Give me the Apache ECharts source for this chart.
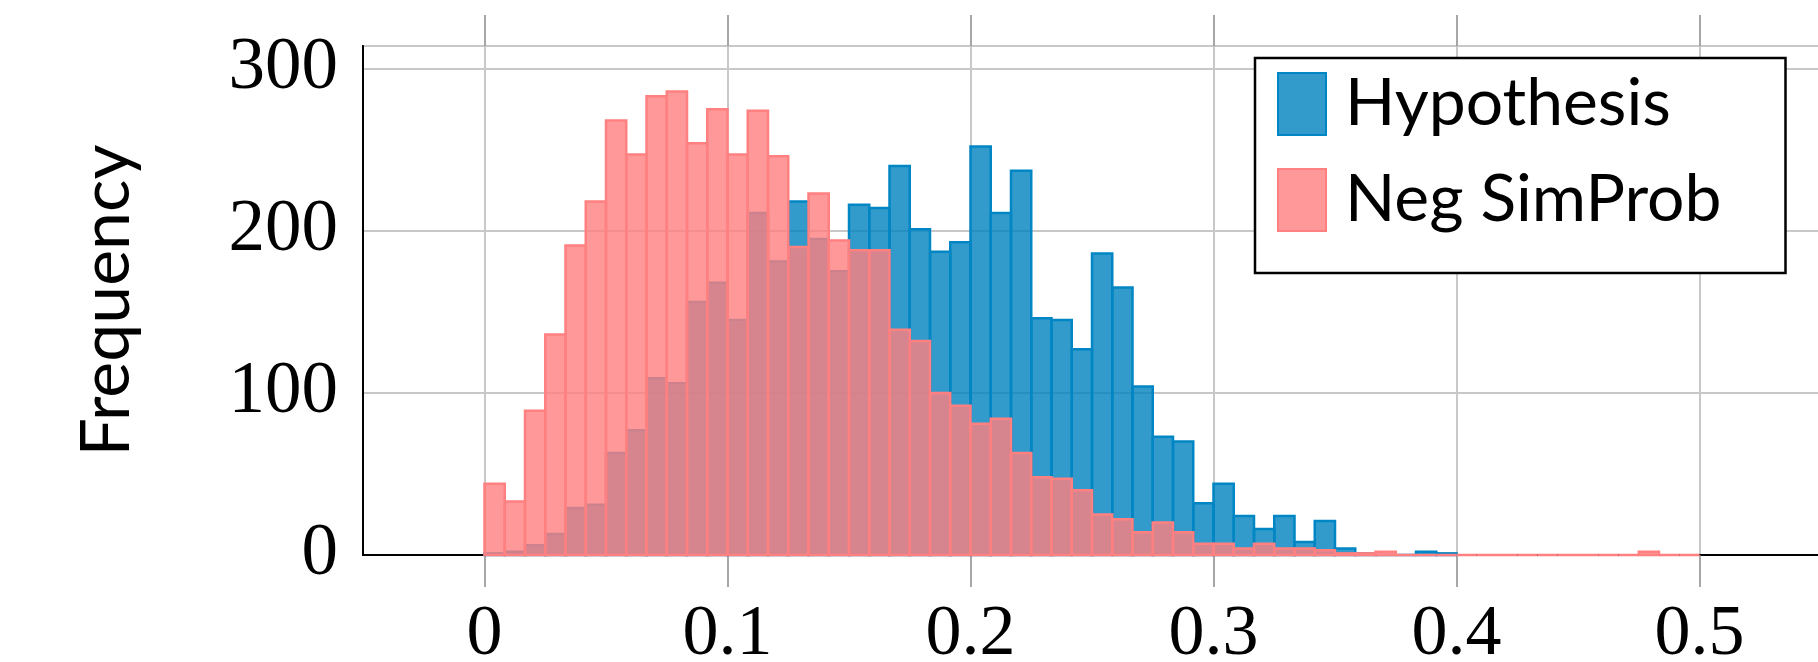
<!DOCTYPE html>
<html>
<head>
<meta charset="utf-8">
<script src="https://cdn.jsdelivr.net/npm/echarts@6/dist/echarts.min.js"></script>
<style>
  html, body { margin: 0; padding: 0; background: #fff; }
  #chart { width: 1818px; height: 662px; }
</style>
</head>
<body>
<div id="chart"></div>
<script>
// Histogram: 60 bins over [0, 0.5]
const BIN_START = 0;
const BIN_WIDTH = 0.5 / 60;

const hypothesis = [1, 2, 6, 13, 29, 31, 63, 77, 109, 106, 156, 168,
  145, 211, 181, 218, 195, 175, 216, 214, 240, 201, 187, 193,
  252, 211, 237, 146, 145, 127, 186, 165, 104, 73, 70, 32,
  44, 24, 16, 24, 8, 21, 4, 1, 0, 0, 2, 1];

const negSimProb = [44, 33, 89, 136, 191, 218, 268, 247, 283, 286, 254, 275,
  247, 274, 246, 190, 223, 194, 188, 188, 139, 132, 100, 92,
  81, 84, 63, 48, 47, 40, 25, 22, 14, 20, 14, 7,
  7, 4, 7, 4, 4, 3, 1, 1, 2, 0, 0, 0,
  0, 0, 0, 0, 0, 0, 0, 0, 0, 2, 0, 0];

const xTicks = [0, 0.1, 0.2, 0.3, 0.4, 0.5];
const xTickLabels = ['0', '0.1', '0.2', '0.3', '0.4', '0.5'];
const yTicks = [0, 100, 200, 300];

const seriesNames = ['Hypothesis', 'Neg SimProb'];

function toBins(values) {
  return values.map((v, i) => [BIN_START + i * BIN_WIDTH, BIN_START + (i + 1) * BIN_WIDTH, v]);
}

const BLUE_FILL = 'rgba(0,130,190,0.8)';
const BLUE_EDGE = 'rgb(0,134,196)';
const RED_FILL = 'rgba(255,128,128,0.8)';
const RED_EDGE = 'rgb(255,128,128)';

function makeRenderer(fill, stroke) {
  return function (params, api) {
    const x0 = api.value(0), x1 = api.value(1), v = api.value(2);
    const p0 = api.coord([x0, v]);
    const p1 = api.coord([x1, 0]);
    return {
      type: 'rect',
      shape: { x: p0[0], y: p0[1], width: p1[0] - p0[0], height: p1[1] - p0[1] },
      style: { fill: fill, stroke: stroke, lineWidth: 2.5 }
    };
  };
}

const chart = echarts.init(document.getElementById('chart'), null, { renderer: 'canvas' });

const serifFont = '"Liberation Serif", "DejaVu Serif", serif';
const sansFont = 'Lato, "Noto Sans", sans-serif';

chart.setOption({
  animation: false,
  backgroundColor: '#fff',
  grid: {
    left: 363, right: -3, top: 46, bottom: 107,
    outerBoundsMode: 'none', containLabel: false,
    show: true, borderColor: '#000', borderWidth: 2, backgroundColor: 'transparent'
  },
  legend: {
    orient: 'vertical',
    left: 1255, top: 58,
    padding: [13, 64, 40, 22],
    itemWidth: 48, itemHeight: 62, itemGap: 30,
    backgroundColor: '#fff', borderColor: '#000', borderWidth: 2.5,
    textStyle: { fontFamily: sansFont, fontSize: 66, color: '#000', lineHeight: 62, padding: [0, 0, 0, 14] },
    data: [
      { name: seriesNames[0], icon: 'rect', itemStyle: { color: BLUE_FILL, borderColor: BLUE_EDGE, borderWidth: 2 } },
      { name: seriesNames[1], icon: 'rect', itemStyle: { color: RED_FILL, borderColor: RED_EDGE, borderWidth: 2 } }
    ]
  },
  xAxis: [
    {
      type: 'value', position: 'bottom', min: -0.05, max: 0.55,
      axisLine: { show: true, onZero: false, lineStyle: { color: '#000', width: 2 } },
      axisTick: { show: true, customValues: xTicks, length: 32, lineStyle: { color: '#8a8a8a', width: 1.5 } },
      axisLabel: {
        show: true, customValues: xTicks, margin: 44,
        fontFamily: serifFont, fontSize: 72, color: '#000',
        formatter: function (v) { const i = xTicks.findIndex(t => Math.abs(t - v) < 1e-9); return i >= 0 ? xTickLabels[i] : ''; }
      },
      splitLine: { show: true, lineStyle: { color: '#c8c8c8', width: 2 } }
    },
    {
      type: 'value', position: 'top', min: -0.05, max: 0.55,
      axisLine: { show: false, onZero: false },
      axisTick: { show: true, customValues: xTicks, length: 31, lineStyle: { color: '#8a8a8a', width: 1.5 } },
      axisLabel: { show: false },
      splitLine: { show: false }
    }
  ],
  yAxis: {
    type: 'value', min: 0, max: 314, interval: 100,
    name: 'Frequency', nameLocation: 'middle', nameGap: 222,
    nameTextStyle: { fontFamily: sansFont, fontSize: 68, color: '#000' },
    axisLine: { show: true, onZero: false, lineStyle: { color: '#000', width: 2 } },
    axisTick: { show: false },
    axisLabel: {
      margin: 25, fontFamily: serifFont, fontSize: 73, color: '#000', showMaxLabel: false,
      formatter: function (v) { return yTicks.indexOf(v) >= 0 ? String(v) : ''; }
    },
    splitLine: { show: true, lineStyle: { color: '#c8c8c8', width: 2 } }
  },
  series: [
    {
      name: seriesNames[0], type: 'custom', xAxisIndex: 0, yAxisIndex: 0,
      itemStyle: { color: BLUE_FILL },
      encode: { x: [0, 1], y: 2 },
      renderItem: makeRenderer(BLUE_FILL, BLUE_EDGE),
      data: toBins(hypothesis), z: 2
    },
    {
      name: seriesNames[1], type: 'custom', xAxisIndex: 0, yAxisIndex: 0,
      itemStyle: { color: RED_FILL },
      encode: { x: [0, 1], y: 2 },
      renderItem: makeRenderer(RED_FILL, RED_EDGE),
      data: toBins(negSimProb), z: 3
    }
  ]
});
</script>
</body>
</html>
